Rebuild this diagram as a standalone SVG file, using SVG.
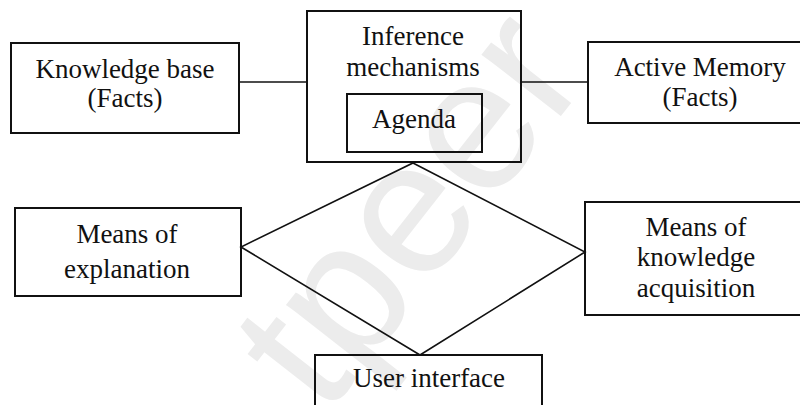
<svg xmlns="http://www.w3.org/2000/svg" width="800" height="405" viewBox="0 0 800 405">
<style>
.box{fill:none;stroke:#111;stroke-width:2}
.ln{fill:none;stroke:#111;stroke-width:1.6}
.t{font-family:"Liberation Serif","Times New Roman",serif;font-size:27px;fill:#111;text-anchor:middle}
.wm{font-family:"Liberation Sans",Arial,sans-serif;font-size:190px;fill:#ececec}
</style>
<rect width="800" height="405" fill="#fff"/>
<text class="wm" transform="translate(325,418) rotate(-52)">tpeer</text>
<g id="connectors">
<line class="ln" x1="239" y1="82" x2="307" y2="82"/>
<line class="ln" x1="521" y1="82" x2="588" y2="82"/>
<polygon class="ln" points="413,163 585,252 420,355 241,247"/>
</g>
<g id="knowledge-base">
<rect class="box" x="11" y="43" width="228" height="90"/>
<text class="t" x="125" y="78">Knowledge base</text>
<text class="t" x="125" y="107">(Facts)</text>
</g>
<g id="inference">
<rect class="box" x="307" y="11" width="214" height="151"/>
<text class="t" x="413" y="45">Inference</text>
<text class="t" x="413" y="76">mechanisms</text>
</g>
<g id="agenda">
<rect class="box" x="347" y="94" width="135" height="58"/>
<text class="t" x="414" y="128">Agenda</text>
</g>
<g id="active-memory">
<rect class="box" x="588" y="42" width="216" height="81"/>
<text class="t" x="700" y="76">Active Memory</text>
<text class="t" x="700" y="106">(Facts)</text>
</g>
<g id="explanation">
<rect class="box" x="15" y="208" width="226" height="88"/>
<text class="t" x="127" y="243">Means of</text>
<text class="t" x="127" y="278">explanation</text>
</g>
<g id="acquisition">
<rect class="box" x="585" y="202" width="220" height="113"/>
<text class="t" x="696" y="236">Means of</text>
<text class="t" x="696" y="266">knowledge</text>
<text class="t" x="696" y="297">acquisition</text>
</g>
<g id="user-interface">
<rect class="box" x="315" y="355" width="227" height="60"/>
<text class="t" x="429" y="387">User interface</text>
</g>
</svg>
